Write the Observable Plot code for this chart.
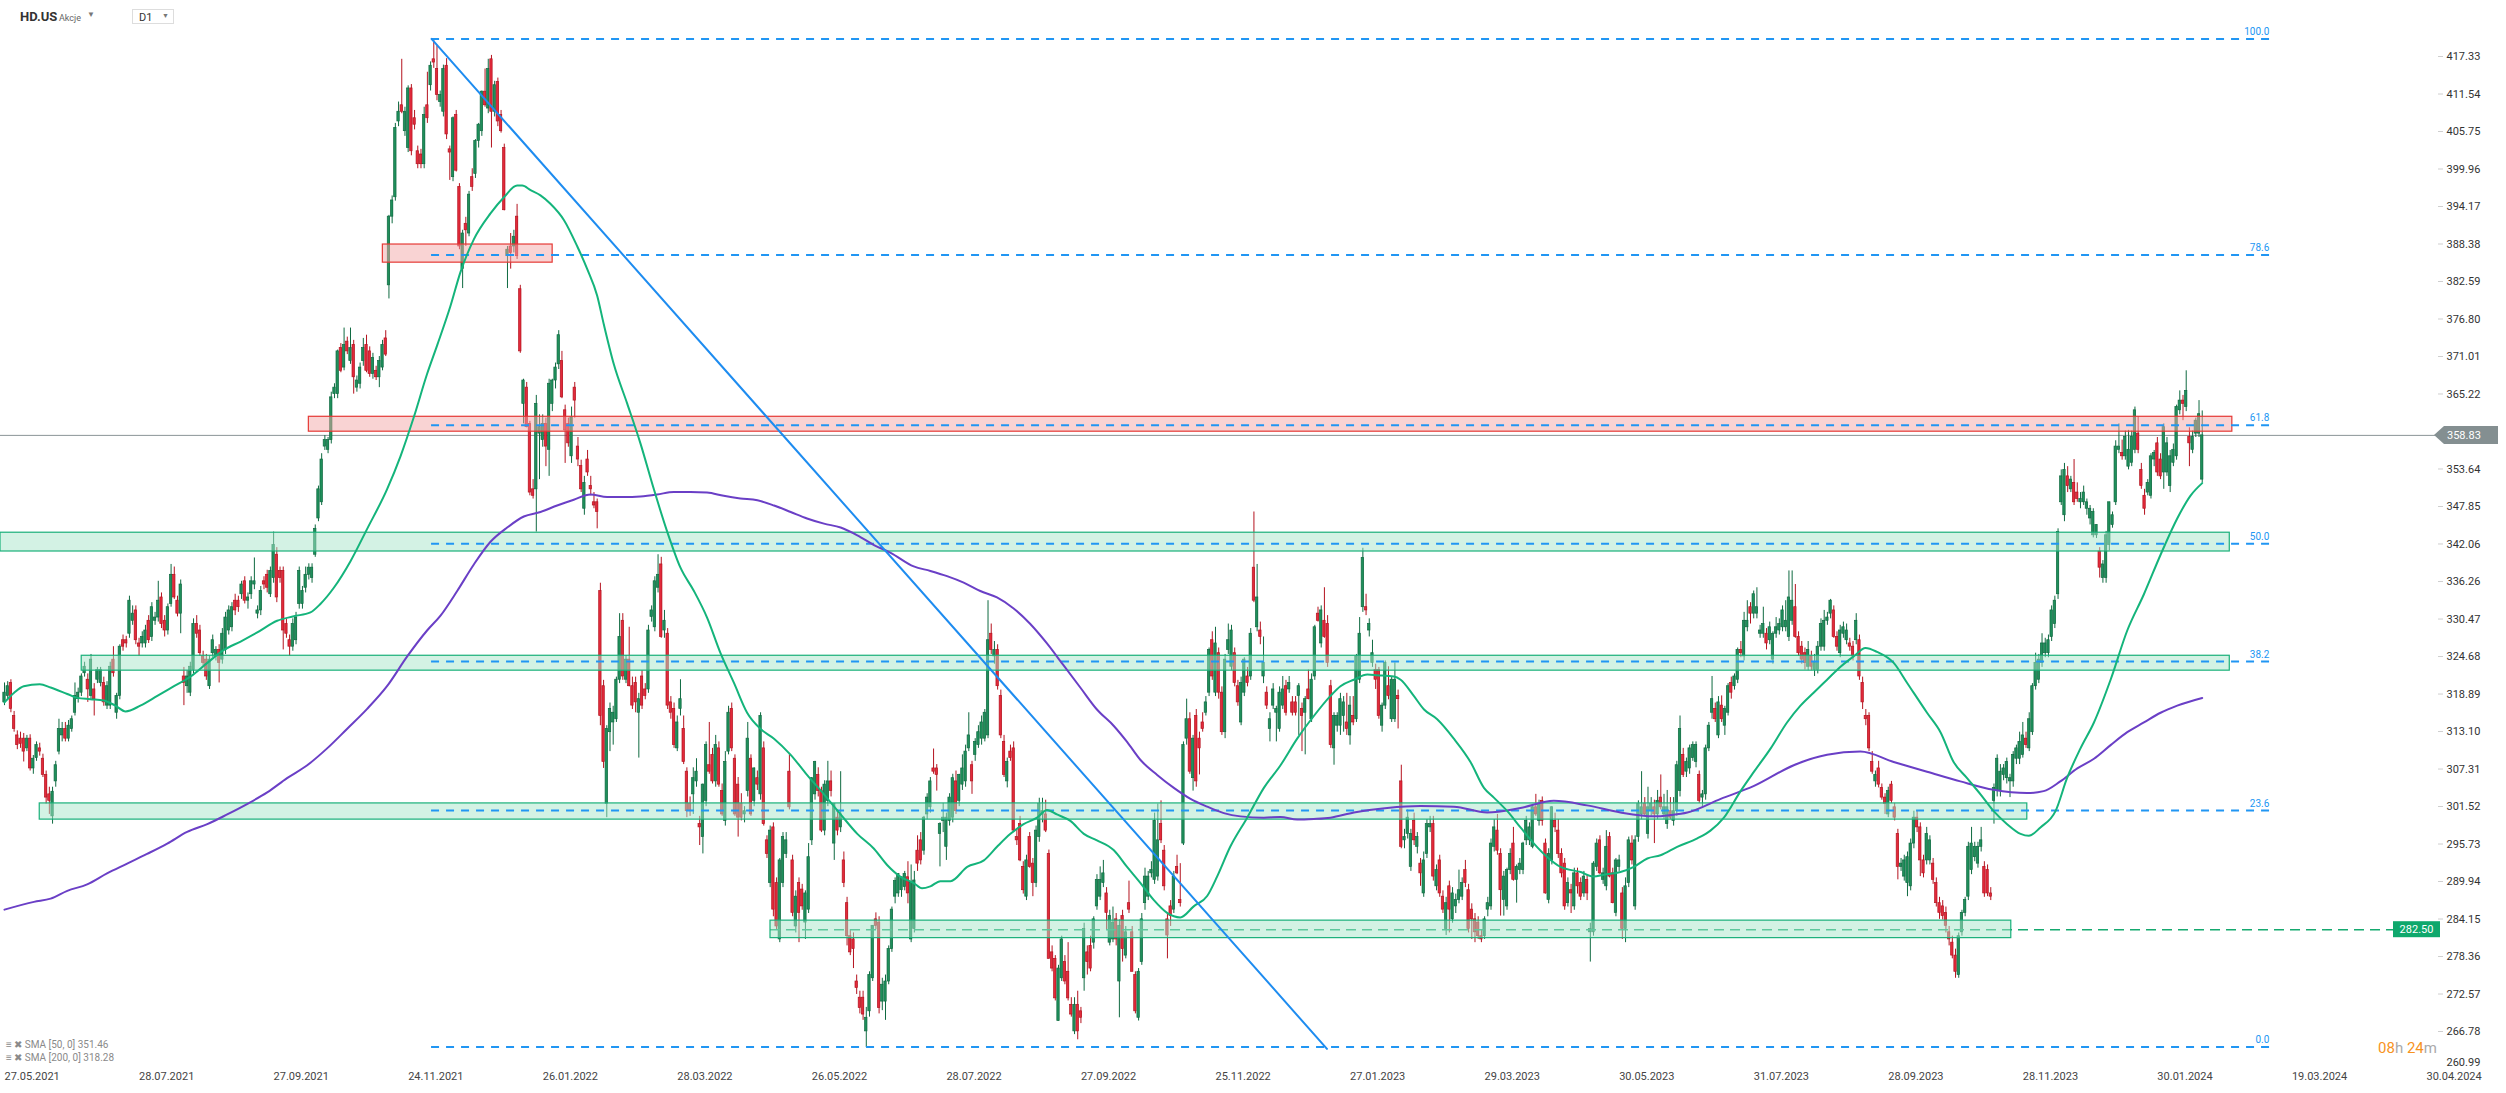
<!DOCTYPE html>
<html><head><meta charset="utf-8">
<script src="https://cdn.jsdelivr.net/npm/d3@7"></script>
<script src="https://cdn.jsdelivr.net/npm/@observablehq/plot@0.6"></script>
<style>
html,body{margin:0;padding:0;background:#fff;overflow:hidden;}
#wrap{position:relative;width:2506px;height:1093px;font-family:Roboto,"Noto Sans",sans-serif;}
.ov{position:absolute;white-space:nowrap;}
</style></head><body><div id="wrap"></div>
<script>
// ---- Daily candles [open, high, low, close], trading-day index 0 = 27.05.2021 ----
const candlesMayToDec2021 = [
[317.6,320.6,317.1,319.1],[318.6,320.8,318.0,320.1],[320.6,321.1,316.0,316.6],[315.5,316.2,313.0,313.5],[312.5,313.2,310.3,311.0],
[312.0,313.0,310.5,311.2],[312.0,312.8,308.4,310.0],[310.5,312.5,310.0,312.0],[312.0,312.6,307.0,307.4],[307.4,309.4,306.5,308.9],
[309.0,311.5,308.5,311.0],[310.5,311.3,309.3,310.0],[308.9,309.6,306.0,306.4],[306.4,307.0,301.9,302.9],[303.4,304.5,300.3,302.4],
[300.0,304.5,298.8,303.8],[305.4,308.5,304.5,307.9],[310.0,315.0,309.5,313.5],[312.5,314.5,311.5,313.5],[313.5,314.5,311.5,312.0],
[312.0,314.8,311.5,314.0],[313.5,315.5,313.0,315.0],[316.0,320.6,315.5,318.6],[318.1,319.8,317.5,319.1],[319.1,322.0,318.5,321.6],
[322.1,323.8,321.5,323.1],[321.1,322.0,317.6,319.6],[318.6,325.0,318.0,324.2],[319.6,320.5,315.5,318.1],[321.1,323.0,320.5,322.6],
[320.6,323.0,320.0,322.6],[320.6,321.5,317.0,317.6],[317.1,320.8,316.5,320.1],[317.1,323.8,316.5,323.1],[324.2,326.2,321.5,322.1],
[316.0,319.0,315.0,318.6],[318.6,326.5,318.0,326.2],[327.2,328.0,325.5,326.2],[327.2,327.8,326.0,326.7],[328.2,334.0,327.5,333.3],
[330.2,332.5,329.5,331.3],[331.8,332.5,326.5,327.2],[326.7,327.5,324.7,326.2],[326.7,328.5,326.0,327.7],[326.7,329.5,326.0,328.7],
[330.2,331.0,326.7,327.2],[327.7,333.0,327.0,332.3],[330.2,331.5,329.5,330.7],[330.7,336.3,330.0,333.3],[333.8,334.5,329.0,329.7],
[330.2,331.0,327.7,328.7],[328.7,332.8,328.0,332.3],[332.8,338.9,332.3,337.3],[337.3,338.5,333.5,333.8],[333.3,334.0,330.8,331.3],
[331.3,336.5,328.2,335.8],[321.6,323.0,317.1,320.6],[320.1,322.5,319.0,321.6],[319.1,323.8,318.5,323.1],[322.6,330.5,322.0,329.7],
[329.7,331.0,327.5,328.2],[328.7,329.5,324.7,325.2],[324.7,325.5,323.2,323.7],[324.2,325.0,321.0,321.6],[320.1,324.8,319.6,324.2],
[325.2,328.0,324.5,327.2],[324.7,326.2,324.0,325.7],[325.7,326.5,320.6,323.7],[324.2,329.0,323.5,328.2],[325.7,331.5,325.0,330.7],
[328.7,332.5,328.0,331.8],[329.2,333.0,328.5,332.3],[333.3,334.3,331.0,331.8],[333.3,334.0,331.5,332.3],[334.3,336.3,333.5,335.8],
[336.3,337.0,332.8,333.3],[333.3,334.5,332.0,333.8],[334.3,337.0,333.5,336.3],[335.8,339.9,335.0,336.3],[331.3,332.5,330.5,331.8],
[331.8,335.5,331.0,334.8],[336.3,337.0,335.0,335.8],[337.3,338.0,334.5,335.3],[334.3,338.5,333.8,337.9],[336.8,343.9,336.0,341.9],
[340.4,341.5,333.0,333.8],[337.9,338.5,336.0,336.8],[337.9,338.5,325.7,328.7],[329.7,330.5,327.5,328.2],[327.2,328.0,324.7,326.2],
[326.2,330.5,325.5,329.7],[327.2,331.5,326.5,330.7],[332.8,338.5,332.0,337.9],[332.8,335.5,332.0,334.8],[335.3,338.5,334.5,337.3],
[337.3,339.0,336.5,338.4],[336.8,339.0,336.0,338.4],[340.4,345.0,340.0,344.4],[346.0,351.0,345.5,350.5],[348.5,356.0,348.0,355.1],
[357.1,358.8,356.5,358.1],[356.6,358.5,356.0,358.1],[358.1,365.5,357.5,364.7],[365.2,366.8,364.5,366.2],[365.2,372.0,364.5,371.8],
[372.3,373.0,368.5,368.8],[369.3,375.4,368.8,372.8],[373.3,374.0,371.3,371.8],[370.3,375.4,369.8,372.3],[372.8,373.5,365.2,367.8],
[366.2,368.0,365.5,367.3],[366.8,370.0,366.0,369.3],[370.3,373.8,369.5,372.3],[372.8,374.3,368.5,368.8],[371.8,372.5,367.8,368.3],
[368.3,371.5,367.5,370.8],[368.8,369.5,367.3,367.8],[367.8,371.0,366.2,370.3],[369.3,373.5,368.8,372.8],[373.8,375.0,371.0,371.3],
[382.0,392.8,379.9,392.6],[392.6,395.8,391.5,395.1],[395.6,407.0,395.0,406.3],[407.3,410.3,406.5,408.8],[409.8,416.9,408.5,408.8],
[405.8,409.5,405.0,408.8],[403.2,412.8,402.5,412.4],[412.4,413.0,402.0,402.7],[407.8,409.0,406.0,406.8],[402.7,403.5,400.0,400.7],
[402.2,403.0,400.0,400.7],[400.7,409.5,400.0,408.3],[409.8,414.9,407.0,407.8],[412.9,416.5,412.0,415.9],[416.9,420.0,415.5,416.4],
[415.4,419.0,410.5,411.4],[410.3,412.0,409.5,411.4],[408.8,416.0,408.0,415.4],[415.9,417.0,404.5,405.3]
];
const candlesDec2021ToJun2022 = [
[403.0,403.5,398.2,402.5],[398.7,408.0,398.0,407.8],[408.3,409.0,399.5,399.7],[397.2,397.7,387.5,388.0],[384.5,390.5,381.5,390.0],
[391.5,392.5,388.0,390.5],[390.0,396.5,389.5,396.0],[398.7,400.0,396.5,397.2],[399.2,404.5,398.5,404.3],[404.3,407.0,403.2,406.8],
[405.8,412.0,405.0,411.9],[411.9,415.4,409.5,409.8],[409.3,416.9,408.5,415.4],[416.9,417.5,403.2,408.8],[408.8,413.5,408.0,412.9],
[413.4,414.0,406.5,407.3],[408.3,409.0,405.5,405.8],[403.2,403.8,393.5,393.6],[386.5,388.0,381.5,387.5],[388.0,390.0,384.5,387.0],
[388.0,390.5,387.0,389.5],[392.6,394.5,386.0,386.5],[381.4,382.0,371.5,371.8],[363.7,367.5,360.6,367.3],[366.2,367.0,360.0,360.1],
[360.6,361.0,349.5,350.0],[350.5,352.0,349.0,349.5],[350.5,365.0,343.9,363.7],[359.1,362.0,352.0,360.1],[358.1,362.0,357.0,360.6],
[360.6,361.5,354.0,357.1],[356.6,367.5,352.5,366.8],[363.7,367.5,362.5,367.3],[367.3,370.0,366.0,369.3],[369.8,375.0,369.0,374.3],
[370.3,371.8,364.5,364.7],[362.7,363.5,354.5,359.6],[360.6,361.5,357.0,357.6],[355.6,363.2,354.5,361.6],[366.2,367.0,361.5,364.2],
[357.1,358.5,354.0,355.1],[354.1,355.0,350.0,350.5],[347.5,352.5,346.5,351.5],[355.1,356.5,352.5,353.1],[351.0,352.5,349.5,350.5],
[348.5,350.0,347.5,348.0],[348.5,349.0,344.4,347.0],[334.8,336.0,314.0,315.5],[320.1,321.0,307.4,308.4],[301.9,314.0,299.8,313.5],
[313.0,317.5,310.0,316.6],[314.5,317.0,311.0,316.0],[315.0,321.5,314.5,321.1],[321.1,331.3,320.5,327.7],[330.2,331.3,321.0,321.6],
[321.1,324.8,320.5,324.2],[324.2,329.2,320.0,320.1],[320.1,321.5,316.5,317.1],[320.6,321.5,316.0,317.6],[316.0,319.0,309.0,318.1],
[321.6,322.5,316.5,317.1],[319.6,320.5,318.0,318.6],[319.6,329.5,319.0,328.7],[330.8,332.5,330.0,331.8],[329.2,337.0,328.5,336.3],
[335.3,340.4,334.5,337.3],[338.9,340.0,327.5,327.7],[328.7,331.8,327.5,330.2],[328.2,329.0,316.5,317.1],[317.6,318.5,315.0,316.0],
[316.6,317.5,310.5,311.0],[310.5,315.5,310.0,314.5],[316.6,321.1,315.5,318.1],[313.5,315.5,308.0,308.4],[306.9,307.5,299.8,300.8],
[301.9,303.0,300.0,300.8],[303.4,307.5,300.3,305.9],[305.4,308.9,304.5,306.9],[298.8,300.0,295.5,298.3],[296.8,305.0,294.2,304.9],
[302.4,311.5,301.5,311.0],[307.9,314.5,306.5,306.9],[309.5,310.5,305.0,305.4],[305.4,312.5,304.5,311.0],[310.5,311.5,304.5,304.9],
[303.9,305.0,300.0,300.3],[299.3,310.0,298.5,308.4],[310.0,317.0,309.5,316.0],[316.6,317.5,310.0,310.5],[308.9,309.5,300.0,300.3],
[304.9,306.0,296.8,299.8],[301.9,303.5,299.3,299.8],[300.3,301.5,299.0,300.8],[303.9,314.5,303.0,312.0],[308.9,309.5,300.0,300.3],
[302.4,307.5,301.5,307.4],[305.9,307.0,304.0,304.9],[303.4,316.0,302.5,315.5],[310.5,311.5,298.5,298.8],[296.3,297.0,293.5,294.2],
[289.7,298.5,289.0,297.8],[298.3,299.0,284.5,285.6],[289.7,290.5,282.5,283.0],[281.0,293.5,280.5,293.2],[289.7,297.5,289.0,296.8],
[294.2,297.5,293.5,296.3],[306.9,309.5,301.0,301.4],[293.2,294.0,284.5,285.1],[283.0,288.5,282.0,287.6],[289.7,290.5,280.5,285.1],
[288.7,289.5,285.5,286.1],[283.6,288.5,281.0,288.1],[285.6,295.8,285.0,293.7],[296.3,306.0,295.5,305.9],[303.4,308.5,302.5,308.4],
[306.4,307.5,303.0,303.9],[303.9,304.5,297.5,297.8],[297.8,305.5,297.0,304.9],[302.4,308.5,301.5,305.4],[305.4,307.0,303.0,303.9],
[295.8,301.9,293.2,301.9],[299.8,301.0,297.0,297.8],[298.3,306.9,297.5,300.3],[293.2,294.5,289.0,289.7],[286.6,287.5,280.0,281.5],
[281.5,282.5,278.5,279.0],[281.0,282.0,276.5,279.5],[274.5,275.5,272.5,273.5],[272.0,273.0,269.5,270.4],[272.0,273.0,268.5,269.4],
[266.8,270.5,264.3,268.9],[269.9,276.0,269.0,275.5],[275.0,283.0,274.5,283.1],[284.1,285.1,282.5,283.1],[283.6,284.5,269.5,270.4],
[271.4,275.0,270.0,274.0],[271.4,275.5,268.5,274.5],[274.5,280.0,274.0,279.5]
];
const candlesJun2022ToJan2023 = [
[279.5,286.0,279.0,285.6],[287.6,290.5,286.5,290.0],[288.1,291.0,287.5,291.1],[288.6,290.5,287.5,290.6],[289.1,291.5,288.5,291.1],
[290.6,293.0,286.5,288.1],[281.0,292.5,280.5,289.7],[282.6,291.5,282.0,290.1],[294.7,297.0,291.5,292.7],[296.3,297.5,292.5,293.2],
[294.7,300.0,294.0,299.8],[300.3,303.5,299.5,302.9],[301.4,306.0,300.5,305.4],[307.4,310.4,306.5,306.9],[307.4,308.0,303.9,306.4],
[297.3,299.0,292.2,298.8],[299.3,302.0,297.5,299.8],[295.3,300.5,293.2,299.8],[299.3,303.5,298.5,302.9],[299.8,306.5,299.0,305.9],
[305.4,307.0,300.3,300.8],[302.4,306.5,301.5,306.4],[304.9,309.5,304.0,307.4],[305.4,311.0,304.5,310.0],[310.5,316.0,310.0,312.5],
[307.9,308.5,303.4,305.4],[309.5,312.0,308.5,311.5],[311.0,314.0,310.5,313.0],[312.0,315.5,311.0,314.5],[312.0,316.5,311.5,316.0],
[312.5,333.3,312.0,327.2],[328.2,329.7,325.0,325.7],[324.7,327.0,323.5,325.7],[325.7,326.5,319.5,320.1],[318.6,319.5,312.0,312.5],
[311.5,312.5,306.0,306.4],[305.4,309.0,304.4,308.4],[310.0,311.0,308.5,309.0],[310.5,311.5,297.5,297.8],[296.8,298.0,295.5,296.3],
[298.8,300.0,293.0,293.2],[292.2,293.0,288.0,288.6],[287.6,294.0,287.0,293.2],[296.8,297.5,292.0,292.2],[292.7,293.5,287.6,289.7],
[289.7,298.5,289.0,297.8],[296.8,302.8,296.0,301.9],[300.3,302.8,299.0,300.8],[300.3,302.5,297.5,297.8],[294.2,294.8,278.0,278.0],
[279.0,280.0,276.0,276.5],[278.0,278.5,271.5,271.9],[268.4,277.0,268.4,276.5],[275.0,281.5,274.5,281.0],[277.5,278.5,274.0,274.5],
[276.0,280.5,271.5,271.9],[270.9,272.0,269.0,269.4],[266.8,272.0,266.3,270.9],[270.9,273.0,265.5,266.8],[269.9,270.5,268.0,268.9],
[275.0,283.5,273.0,282.6],[279.0,280.0,275.5,277.5],[280.0,281.5,276.0,276.5],[280.5,284.5,279.5,284.1],[286.1,291.0,285.5,290.2],
[287.6,292.2,287.0,290.2],[289.7,293.2,289.0,291.2],[288.1,289.0,282.5,285.1],[280.5,285.5,280.0,284.6],[281.0,286.0,280.5,283.6],
[284.1,285.0,280.0,281.0],[274.5,284.0,268.9,283.1],[284.6,285.5,277.5,279.5],[278.5,283.0,278.0,282.1],[286.6,290.0,285.0,285.6],
[282.1,283.0,276.0,276.0],[275.5,276.0,269.5,269.9],[268.9,276.5,268.4,276.0],[277.5,285.0,277.0,284.1],[286.6,292.0,285.5,290.7],
[287.6,291.5,287.0,290.7],[291.2,293.0,290.5,291.7],[290.2,300.5,289.5,299.3],[290.7,301.9,290.0,296.3],[298.8,302.4,295.8,296.3],
[294.7,295.5,288.5,289.2],[284.1,285.0,278.0,281.6],[286.1,287.0,283.0,284.6],[285.6,291.5,285.0,290.7],[292.2,294.0,291.0,291.2],
[287.1,292.7,286.0,286.6],[295.8,311.5,295.5,311.0],[312.0,318.1,311.0,315.0],[315.0,316.0,306.5,306.9],[305.9,312.5,303.9,312.0],
[315.5,316.5,304.5,305.4],[312.0,313.0,306.4,310.5],[314.5,316.0,313.0,313.5],[316.0,318.5,315.5,317.6],[319.1,326.0,318.5,325.7],
[327.2,328.5,321.0,321.6],[319.1,329.2,318.5,326.7],[325.2,326.0,318.1,319.1],[319.1,320.0,312.5,313.0],[313.0,325.0,312.0,324.2],
[325.7,329.7,325.0,327.2],[323.1,329.5,322.5,328.7],[325.2,326.0,320.0,320.6],[320.1,321.0,317.0,317.6],[314.5,321.5,314.0,320.6],
[319.1,324.5,318.5,324.2],[321.6,323.0,320.0,320.6],[321.6,329.0,321.0,328.2],[338.4,347.0,333.0,333.3],[329.2,338.9,328.5,333.8],
[328.7,330.0,326.5,327.7],[321.6,327.7,320.5,323.7],[319.1,320.0,316.5,317.1],[313.5,316.0,311.5,315.0],[317.1,320.5,316.5,319.6],
[316.0,317.0,311.5,316.6],[313.5,320.0,313.0,319.1],[317.1,321.6,316.5,319.6],[320.1,321.0,315.5,316.0],[319.6,321.6,319.0,320.6],
[317.6,318.5,315.5,316.0],[317.6,318.5,315.5,316.0],[318.6,320.5,312.5,320.1],[316.6,317.5,310.0,315.5],[316.0,318.5,309.5,318.1],
[319.6,322.6,318.0,318.1],[315.0,322.0,314.5,321.1],[321.6,329.5,321.0,329.2],[331.3,332.3,330.0,330.2],[326.7,332.5,326.0,331.8],
[330.2,335.3,327.5,327.7],[329.7,331.0,323.0,323.7]
];
const candlesJan2023ToAug2023 = [
[320.1,321.0,310.5,311.0],[310.5,316.0,307.9,315.5],[314.0,316.0,313.0,315.5],[314.0,319.0,312.5,318.1],[315.5,318.5,313.0,317.6],
[314.5,319.0,312.5,313.5],[312.5,318.5,311.0,317.1],[315.5,318.5,314.0,314.5],[315.0,325.0,314.5,324.7],[321.1,330.7,320.5,328.2],
[332.3,341.4,331.5,339.9],[332.3,334.3,331.0,331.8],[328.7,330.5,327.7,329.7],[323.7,327.2,323.0,325.2],[322.6,323.5,319.6,321.1],
[322.6,323.0,315.0,315.5],[314.0,317.5,313.0,317.1],[317.1,324.0,316.5,323.7],[320.1,323.1,318.0,318.6],[315.0,321.5,314.5,321.1],
[315.0,323.7,314.5,321.1],[318.6,319.5,313.5,318.1],[305.4,307.9,295.0,295.3],[296.3,298.0,295.0,296.8],[297.3,301.0,296.5,299.8],
[292.2,298.0,291.5,297.3],[299.3,300.5,295.5,296.3],[295.3,297.5,294.2,296.8],[292.7,293.5,289.2,291.2],[288.1,294.5,287.5,293.2],
[294.2,299.5,293.5,298.8],[298.3,300.0,297.5,298.8],[298.8,300.0,290.0,290.7],[289.2,292.5,288.5,291.7],[293.2,294.0,287.5,288.1],
[287.6,288.5,285.0,285.6],[282.6,287.5,281.6,286.6],[289.2,290.0,282.0,285.6],[284.1,289.0,283.5,288.1],[286.1,288.0,285.0,287.1],
[287.1,291.7,286.5,288.6],[287.6,290.5,287.0,289.7],[291.7,293.2,289.0,289.7],[288.6,289.5,282.0,282.6],[285.6,286.5,281.0,284.1],
[284.1,285.0,280.5,282.1],[283.6,284.5,281.0,281.5],[281.5,282.5,280.5,281.0],[281.5,284.5,281.0,284.1],[285.6,287.5,284.5,286.6],
[286.1,296.5,285.5,295.8],[295.3,299.5,294.5,298.3],[297.8,300.3,294.0,294.7],[294.2,295.0,284.6,288.6],[287.1,291.5,284.6,290.7],
[286.1,292.0,285.5,291.7],[291.7,295.0,291.0,294.2],[295.8,298.3,290.0,290.2],[290.2,292.5,286.6,292.2],[291.7,293.5,291.0,292.7],
[291.7,296.0,291.0,295.8],[296.3,300.0,295.5,299.3],[296.3,299.0,295.5,298.3],[295.3,301.5,295.0,301.4],[301.4,303.4,300.0,300.3],
[299.3,302.5,298.5,301.9],[302.4,303.0,298.5,299.3],[295.8,296.5,288.0,288.1],[287.1,295.0,286.5,294.2],[293.2,301.5,292.5,301.4],
[299.3,300.5,297.5,298.3],[297.8,299.5,293.5,294.2],[294.2,295.0,290.5,291.2],[292.7,293.5,285.5,286.1],[286.6,290.5,286.0,289.7],
[288.6,289.5,285.0,288.1],[286.1,292.0,285.5,291.2],[291.2,292.0,288.0,289.2],[289.7,290.5,287.0,287.6],[288.1,291.5,287.5,290.7],
[290.2,291.0,287.0,288.1],[282.1,283.5,277.5,282.6],[282.1,293.0,281.5,292.7],[292.2,296.5,291.5,295.8],[296.3,297.0,291.0,291.2],
[290.2,292.0,289.5,291.2],[289.2,297.8,288.5,295.3],[296.8,297.5,290.5,290.7],[291.2,292.0,286.5,286.6],[285.1,293.5,284.5,293.2],
[292.2,294.0,291.5,293.2],[288.1,289.0,281.0,282.6],[282.6,290.5,280.5,289.2],[289.7,296.8,289.0,296.3],[295.8,297.0,292.5,293.2],
[286.1,297.0,285.5,296.3],[296.8,302.4,296.0,301.9],[300.3,306.9,299.5,301.4],[301.9,302.9,300.0,300.3],[297.3,304.5,296.5,301.4],
[300.8,302.9,300.0,301.9],[301.4,302.5,295.8,300.3],[300.3,304.0,299.5,302.4],[302.9,306.4,301.0,301.4],[300.3,303.4,299.5,301.4],
[298.8,304.0,298.0,301.4],[300.8,302.9,299.5,299.8],[299.3,302.9,298.5,300.8],[300.8,308.5,300.0,307.9],[303.9,315.5,303.0,313.5],
[309.5,310.5,306.0,306.4],[306.9,309.0,306.0,308.4],[307.4,311.0,306.5,310.5],[309.0,311.5,308.5,311.0],[308.4,311.5,307.5,311.0],
[306.4,307.0,302.0,302.4],[302.9,304.0,301.4,303.4],[303.4,311.0,302.5,310.5],[310.5,314.5,310.0,314.0],[316.0,321.6,315.0,318.1],
[316.6,317.5,314.5,315.0],[312.5,318.5,312.0,317.6],[317.1,318.6,314.5,315.0],[314.0,317.0,312.5,316.6],[316.0,320.5,315.5,320.1],
[320.6,321.5,318.1,319.1],[320.1,322.0,319.5,321.6],[321.1,326.0,320.5,325.7],[325.7,327.0,324.5,325.2],[324.7,331.5,324.0,330.2],
[329.2,333.3,328.5,330.2],[332.3,333.0,329.7,331.3],[331.3,334.8,330.5,334.3],[331.3,335.3,330.5,332.3],[328.2,329.5,327.5,328.7],
[328.2,332.3,327.5,329.7],[328.2,329.0,325.7,326.7],[327.2,330.0,326.5,329.2]
];
const candlesAug2023ToFeb2024 = [
[324.2,328.5,323.5,328.2],[328.2,330.7,327.5,329.2],[328.7,330.5,328.0,329.7],[329.2,332.5,328.5,331.8],[329.2,333.3,328.5,330.2],
[327.7,337.9,327.0,333.8],[330.2,337.9,329.5,333.3],[332.3,335.8,327.5,327.7],[327.7,328.5,324.7,325.2],[326.2,327.0,323.5,324.2],
[325.2,326.0,322.6,323.7],[323.1,327.0,322.5,325.7],[324.7,325.5,322.5,323.1],[322.6,325.0,321.6,323.7],[322.6,327.0,322.0,326.2],
[326.2,330.5,325.5,329.7],[326.2,331.8,325.5,330.2],[330.2,331.5,329.5,330.7],[331.3,333.5,330.5,333.3],[331.8,332.5,327.5,327.7],
[327.7,328.5,325.5,326.2],[325.2,329.5,324.5,328.7],[328.2,330.0,327.5,329.2],[327.2,329.7,326.5,328.7],[326.7,327.5,325.5,326.2],
[326.2,327.0,324.0,324.7],[327.2,331.3,326.5,330.2],[327.2,328.0,321.0,321.6],[320.6,321.5,316.5,317.6],[315.5,316.5,314.0,315.0],
[315.5,316.0,310.0,310.5],[308.4,310.0,306.5,306.9],[305.4,307.0,304.5,306.4],[307.4,308.5,304.4,304.9],[304.4,305.0,302.5,302.9],
[302.9,303.5,300.3,301.9],[300.3,304.5,299.8,303.9],[304.9,305.4,302.0,302.4],[301.4,302.0,299.3,299.8],[297.3,298.0,290.2,292.2],
[292.2,293.5,291.5,292.7],[290.7,294.0,290.0,293.2],[289.7,294.5,287.6,293.7],[289.2,296.5,288.5,295.8],[295.8,300.8,295.0,299.8],
[299.8,300.8,297.5,298.3],[298.3,299.0,290.7,293.2],[293.2,294.0,290.5,291.2],[293.2,298.3,292.5,297.3],[293.2,297.0,292.5,296.3],
[292.7,293.5,289.5,290.2],[289.7,290.5,286.0,286.6],[286.6,287.5,284.1,285.1],[286.1,287.0,284.0,284.6],[285.1,286.0,282.0,283.1],
[282.1,283.0,280.0,281.0],[280.5,281.5,278.0,278.5],[278.5,279.5,275.0,276.0],[275.5,282.0,275.0,281.5],[282.1,285.5,281.5,285.1],
[285.1,287.5,284.5,287.1],[287.6,296.0,287.0,295.3],[291.7,298.3,291.0,295.8],[293.7,296.0,293.0,295.3],[292.7,296.0,292.0,295.3],
[295.3,298.3,294.5,296.3],[292.2,293.0,287.5,288.1],[291.7,292.5,287.6,288.1],[288.1,289.0,287.0,287.6],[302.4,305.0,298.8,304.4],
[303.9,309.5,303.0,308.9],[303.9,308.0,303.0,306.9],[306.4,308.0,305.5,307.4],[305.9,309.0,305.0,308.4],[305.4,306.5,302.9,305.9],
[305.4,310.0,304.5,309.5],[308.9,311.0,308.0,310.5],[308.9,313.0,308.0,311.5],[309.5,314.5,309.0,312.5],[312.0,313.0,310.5,311.0],
[310.5,316.0,310.0,315.0],[313.0,320.5,312.5,320.1],[320.1,325.2,319.5,323.7],[321.1,325.0,320.5,324.2],[323.7,328.2,323.0,326.7],
[325.2,327.5,324.5,326.7],[325.2,328.0,324.5,327.2],[327.7,332.5,327.0,331.8],[329.7,334.0,329.0,333.3],[334.3,344.4,333.5,343.9],
[348.5,353.5,348.0,352.5],[346.5,354.5,345.5,353.5],[352.5,354.0,350.0,351.0],[350.5,352.5,350.0,352.0],[351.5,355.1,348.0,348.5],
[350.0,351.5,348.5,349.0],[348.5,350.0,347.5,349.0],[348.5,351.0,348.0,350.0],[347.5,349.0,346.5,348.5],[346.0,348.0,345.0,347.5],
[343.4,347.5,343.0,347.0],[343.4,345.0,342.9,345.0],[340.9,341.5,336.8,338.4],[336.8,339.5,336.0,338.9],[336.8,344.0,336.0,343.4],
[341.9,348.5,341.0,348.5],[345.0,347.0,344.5,346.5],[348.5,358.0,348.0,357.1],[356.6,360.6,356.0,357.1],[356.1,358.1,355.0,355.6],
[355.6,359.5,355.0,358.6],[354.0,359.6,353.5,356.6],[354.6,359.5,354.0,358.6],[356.6,363.2,356.0,362.7],[359.1,361.7,356.0,356.6],
[353.5,354.5,350.5,351.0],[349.5,350.5,346.5,347.5],[350.0,352.0,349.5,351.5],[349.5,356.0,349.0,355.6],[355.1,356.5,354.0,356.1],
[357.6,358.5,352.5,353.1],[355.1,356.0,352.0,352.5],[353.1,360.6,350.5,360.1],[353.1,358.5,352.5,357.6],[351.0,356.5,350.0,355.6],
[354.6,357.5,354.0,356.6],[355.6,363.5,355.0,363.2],[362.7,365.7,362.0,364.2],[364.2,365.0,361.1,363.7],[363.2,368.8,362.5,365.7],
[358.6,360.0,354.0,357.6],[356.6,359.5,356.0,358.6],[359.1,361.5,358.5,361.1],[359.1,364.2,358.5,362.1],[352.0,362.6,351.5,358.83]
];

// ---- Moving averages: [trading-day index, value] ----
const sma50 = [[0,317.6],[3,319.1],[6,320.1],[11,320.4],[14.4,319.9],[19.6,318.9],[22.7,318.3],[26.8,318.1],[31,317.9],[34.6,317.1],[37.8,316.2],[42.4,317.1],[47.7,318.6],[52.9,320.1],[58.1,321.6],[63.3,323.7],[68.5,325.7],[73.7,327.0],[78.9,328.4],[85.1,330.2],[90.3,330.9],[95.5,331.5],[98.6,332.8],[102.8,335.3],[108,339.4],[113.2,344.4],[119.4,350.5],[123.6,355.6],[127.8,361.7],[131.9,368.3],[135.1,372.8],[139.2,378.8],[142.3,384.0],[146.5,389.1],[151.7,393.1],[155.9,395.6],[160,397.4],[161.6,397.4],[164.2,396.7],[167.3,395.9],[170.4,394.6],[174.6,392.1],[178.8,388.0],[181.9,384.5],[185,380.4],[187.1,375.9],[190.2,369.8],[194.4,363.7],[198.5,357.6],[202.7,350.5],[206.9,343.9],[211,338.4],[215.2,334.8],[219.3,330.7],[223.5,325.2],[227.7,320.6],[231.8,316.0],[236,313.5],[240.2,312.0],[245.4,309.5],[250.5,306.4],[255.8,303.4],[261,300.3],[266.2,297.3],[271.4,295.0],[275.5,292.5],[279.6,290.7],[283.8,289.7],[286.4,288.9],[289,289.2],[292.1,290.0],[295.3,290.0],[300.5,292.2],[305.7,293.2],[309.8,295.3],[314,297.3],[318.1,298.8],[322.3,299.8],[325.4,301.0],[328.5,300.3],[332.7,299.3],[336.9,297.3],[341,296.3],[346.2,294.8],[350.4,292.2],[354.6,289.7],[358.7,287.1],[362.9,285.1],[367,284.4],[371.2,286.1],[375.4,287.7],[378.5,290.7],[382.6,295.3],[387.9,299.8],[393.1,304.4],[398.3,307.9],[403.5,312.0],[408.7,315.5],[413.9,318.6],[417,320.1],[421.2,321.1],[425.4,321.9],[428.5,321.8],[433.7,321.6],[435.8,321.1],[439.9,318.6],[443.1,316.5],[447.2,315.0],[452.4,312.0],[457.6,308.4],[461.8,304.4],[464.9,302.9],[469.1,300.8],[473.2,298.3],[477.4,295.8],[481.6,293.7],[485.7,292.2],[492,291.4],[496.1,290.7],[499.2,291.0],[504.4,291.4],[508.6,292.2],[512.8,293.5],[516.9,294.0],[522.1,295.3],[528.4,296.6],[532.5,297.8],[536.7,299.8],[541.9,303.9],[546.1,306.9],[551.3,310.5],[556.4,314.5],[560.6,317.1],[564.7,319.1],[568.9,321.1],[573.1,323.1],[577.2,324.7],[580.9,326.0],[584.5,325.4],[589.7,323.7],[593.9,320.6],[600.1,316.0],[604.3,313.0],[608.4,308.4],[612.6,305.9],[616.8,303.4],[620.9,300.8],[625.1,298.8],[629.3,297.3],[631.9,297.0],[635.5,298.3],[640.2,300.8],[643.8,305.9],[648,310.5],[652.2,314.5],[657.4,321.1],[662.6,328.7],[667.8,334.3],[673,340.4],[678.2,346.0],[682.3,349.5],[686,351.46]];
const sma200 = [[0,285.6],[9.2,286.8],[14.4,287.3],[19.6,288.5],[25.8,289.5],[32,291.2],[38.3,292.7],[44.5,294.2],[50.8,295.8],[57,297.6],[63.3,298.8],[69.5,300.3],[75.7,301.9],[82,303.7],[88.2,305.9],[94.5,307.9],[100.7,310.5],[106.9,313.5],[113.2,316.6],[119.4,320.1],[125.7,324.7],[131.9,328.7],[136.1,331.0],[141.3,334.8],[146.5,338.9],[151.7,342.4],[156.9,344.6],[162.1,346.3],[167.3,347.0],[172.5,348.0],[177.7,348.9],[182.9,349.7],[188.1,349.3],[193.3,349.3],[198.5,349.4],[203.7,349.7],[208.9,350.1],[214.1,350.1],[219.3,350.0],[224.5,349.5],[229.7,349.1],[235,348.8],[240.2,348.0],[245.4,347.0],[250.5,346.0],[255.8,345.2],[261,344.6],[266.2,343.4],[271.4,341.9],[276.6,340.7],[283.8,338.6],[289,337.9],[294.2,337.1],[299.4,336.1],[304.6,334.8],[309.8,333.8],[315,332.1],[320.2,329.7],[325.4,326.7],[330.6,323.3],[335.8,319.9],[341,316.5],[346.2,314.0],[350.4,311.5],[354.6,308.7],[359.8,306.4],[365,304.4],[370.2,302.7],[375.4,301.5],[380.6,300.5],[385.8,300.0],[393.1,299.8],[398.3,299.9],[403.5,299.5],[408.7,299.6],[413.9,299.8],[421.2,300.6],[431.6,301.3],[442,301.6],[452.4,301.5],[462.8,300.6],[473.2,301.3],[483.6,302.4],[494,301.7],[504.4,300.6],[514.9,300.0],[520,300.2],[525.3,300.6],[535.7,302.7],[546.1,304.7],[558.5,307.9],[568.9,309.5],[579.3,310.0],[589.7,308.4],[600.1,306.9],[610.5,305.4],[620.9,304.1],[631.3,303.6],[636.5,303.9],[641.7,305.4],[647,307.4],[652.2,308.9],[657.4,311.0],[662.6,313.0],[667.8,314.5],[673,316.0],[678.2,317.1],[686,318.28]];

// ---- Fibonacci retracement (Dec 2021 high to Jun 2022 low) ----
const fibLabels = ["100.0","78.6","61.8","50.0","38.2","23.6","0.0"];
const fibPrices = [420.05, 386.7, 360.4, 342.1, 323.9, 300.9, 264.4];
const fibStartIdx = 133.3, fibEndIdx = 708.5;
const trendIdx = [133.3, 412.8], trendPrice = [420.05, 264.1];

// ---- Zones ----
const zoneFrom = [118.1, 95.0, -1.25, 24.1, 11.0, 239.1];
const zoneTo   = [171.1, 695.4, 694.6, 694.6, 631.4, 626.4];
const zoneLow  = [385.5, 359.4, 340.9, 322.5, 299.5, 281.2];
const zoneHigh = [388.3, 361.7, 343.8, 324.8, 302.0, 283.9];
const zoneKind = ["red","red","green","green","green","green"];
const supportLevel = 282.50, supportFromIdx = 239.1, supportToIdx = 745.7;
const lastPrice = 358.83;

// ---- Axis ticks (359.43 sits under the last-price tag) ----
const yTicks = [417.33,411.54,405.75,399.96,394.17,388.38,382.59,376.80,371.01,365.22,353.64,347.85,342.06,336.26,330.47,324.68,318.89,313.10,307.31,301.52,295.73,289.94,284.15,278.36,272.57,266.78,260.99];
const xTickIdx = [0,42,84,126,168,210,252,294,336,378,420,462,504,546,588,630,672,714,756];
const xTickLabels = ["27.05.2021","28.07.2021","27.09.2021","24.11.2021","26.01.2022","28.03.2022","26.05.2022","28.07.2022","27.09.2022","25.11.2022","27.01.2023","29.03.2023","30.05.2023","31.07.2023","28.09.2023","28.11.2023","30.01.2024","19.03.2024","30.04.2024"];

// ---- Build ----
const W = 2506, H = 1093, MR = 69, MB = 23, FR = W - MR;
const GREEN = "#1f8f5b", GREEN_EDGE = "#0f6a41", RED = "#e22a3b", RED_EDGE = "#b4131f";
const candles = [...candlesMayToDec2021, ...candlesDec2021ToJun2022, ...candlesJun2022ToJan2023, ...candlesJan2023ToAug2023, ...candlesAug2023ToFeb2024]
  .map(([o, h, l, c], i) => ({i, o, c, h: Math.max(h, o, c), l: Math.min(l, o, c), up: c >= o}));
const zones = zoneFrom.map((f, k) => ({x1: f, x2: zoneTo[k], y1: zoneLow[k], y2: zoneHigh[k], kind: zoneKind[k]}));
const fib = fibLabels.map((t, k) => ({t, p: fibPrices[k]}));
const trend = trendIdx.map((x, k) => ({x, y: trendPrice[k]}));
const font = "Roboto, 'Noto Sans', sans-serif";

const chart = Plot.plot({
  width: W, height: H,
  marginLeft: 0, marginRight: MR, marginTop: 0, marginBottom: MB,
  style: {fontFamily: font, background: "#ffffff", overflow: "visible"},
  x: {domain: [-1.249, 759.44], axis: null},
  y: {domain: [260.76, 425.98], axis: null},
  marks: [
    Plot.ruleY([lastPrice], {stroke: "#8a9597", strokeWidth: 1}),
    Plot.ruleX(candles, {x: "i", y1: "l", y2: "h", stroke: d => d.up ? GREEN_EDGE : RED_EDGE, strokeWidth: 1}),
    Plot.rect(candles, {x1: d => d.i - 0.37, x2: d => d.i + 0.37, y1: "o", y2: "c",
      fill: d => d.up ? GREEN : RED, stroke: d => d.up ? GREEN_EDGE : RED_EDGE, strokeWidth: 0.7}),
    Plot.ruleY([supportLevel], {x1: () => supportFromIdx, x2: () => supportToIdx, stroke: "#15a96f", strokeWidth: 1.5, strokeDasharray: "10,6"}),
    Plot.rect(zones, {x1: "x1", x2: "x2", y1: "y1", y2: "y2",
      fill: d => d.kind === "red" ? "#f3a8a8" : "#a8e5ca", fillOpacity: 0.5,
      stroke: d => d.kind === "red" ? "#e53935" : "#19b07a", strokeWidth: 1.2}),
    Plot.ruleY(fib, {y: "p", x1: () => fibStartIdx, x2: () => fibEndIdx, stroke: "#2196f3", strokeWidth: 2, strokeDasharray: "8,7"}),
    Plot.line(sma200, {x: d => d[0], y: d => d[1], stroke: "#6a3fc6", strokeWidth: 2, curve: "monotone-x"}),
    Plot.line(sma50, {x: d => d[0], y: d => d[1], stroke: "#14b47b", strokeWidth: 2, curve: "monotone-x"}),
    Plot.line(trend, {x: "x", y: "y", stroke: "#1e8cf0", strokeWidth: 2}),
    Plot.text(fib, {x: () => fibEndIdx, y: "p", text: "t", textAnchor: "end", dx: -5, dy: -7, fill: "#2196f3", fontSize: 10}),
    Plot.axisY({anchor: "right", ticks: yTicks.slice(0, -1), tickFormat: d => d.toFixed(2), tickSize: 5, tickPadding: 4,
      stroke: "#cfcfcf", fill: "#333", fontSize: 11, label: null}),
    Plot.text(yTicks.slice(-1), {y: d => d, text: d => d.toFixed(2), frameAnchor: "right", dx: 9, dy: -7, textAnchor: "start", fill: "#333", fontSize: 11}),
    Plot.text(xTickIdx, {x: d => d, text: (d, i) => xTickLabels[i], frameAnchor: "bottom", textAnchor: "start", lineAnchor: "middle", dy: 6, fill: "#444", fontSize: 11})
  ]
});

// price tags placed through the plot's own y scale
const ys = chart.scale("y");
const svg = d3.select(chart);
const tags = svg.append("g").attr("font-family", font).attr("font-size", 11);
const yp = ys.apply(lastPrice);
tags.append("path")
  .attr("d", `M${FR - 3},${yp} L${FR + 7},${yp - 9} L${FR + 61},${yp - 9} L${FR + 61},${yp + 9} L${FR + 7},${yp + 9} Z`)
  .attr("fill", "#848f91");
tags.append("text").attr("x", FR + 10).attr("y", yp).attr("dy", "0.35em").attr("text-anchor", "start").attr("fill", "#ffffff")
  .text(lastPrice.toFixed(2));
const ys2 = ys.apply(supportLevel);
tags.append("rect").attr("x", FR - 44).attr("y", ys2 - 8).attr("width", 47).attr("height", 16).attr("fill", "#0fa86c");
tags.append("text").attr("x", FR - 20.5).attr("y", ys2).attr("dy", "0.35em").attr("text-anchor", "middle").attr("fill", "#ffffff")
  .text(supportLevel.toFixed(2));

const wrap = document.getElementById("wrap");
wrap.appendChild(chart);

// header, legend and countdown overlays
const ov = (html, css) => { const d = document.createElement("div"); d.className = "ov"; d.style.cssText = css; d.innerHTML = html; wrap.appendChild(d); };
ov("HD.US", "left:20px;top:9px;font-weight:700;font-size:13px;color:#333;");
ov("Akcje", "left:59px;top:13px;font-size:9px;color:#666;");
ov("&#9660;", "left:87px;top:10px;font-size:8px;color:#777;");
ov("D1", "left:132px;top:9px;width:42px;height:15px;border:1px solid #ddd;font-size:11px;color:#333;padding-left:6px;box-sizing:border-box;line-height:15px;");
ov("&#9660;", "left:162px;top:12px;font-size:7px;color:#777;");
ov("&#8801; &#10006; SMA [50, 0] 351.46", "left:6px;top:1039px;font-size:10px;color:#8a8a8a;");
ov("&#8801; &#10006; SMA [200, 0] 318.28", "left:6px;top:1052px;font-size:10px;color:#8a8a8a;");
ov('<span style="color:#f7931e">08</span><span style="color:#aaa">h</span> <span style="color:#f7931e">24</span><span style="color:#aaa">m</span>',
   "left:2378px;top:1039px;font-size:15px;");
</script>
</body></html>
